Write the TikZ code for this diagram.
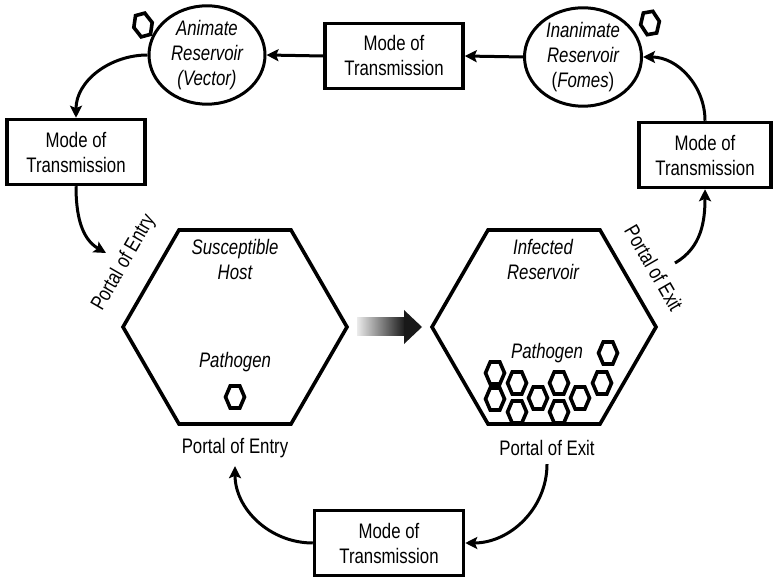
\documentclass[tikz,border=0pt]{standalone}
\usepackage{fontspec}
\setmainfont{Liberation Sans}[FakeStretch=0.8]
\usepackage{tikz}
\usetikzlibrary{arrows.meta,shapes.geometric}
\newcommand{\labelfont}{\fontsize{10.5}{12.5}\selectfont}
% one pathogen cell: [rotation]{x,y}
\newcommand{\pathogenhex}[2][0]{%
  \draw[hexcell, rotate around={#1:(#2)}] (#2) ++(-9.5,0) -- ++(4.7,11)
    -- ++(9.6,0) -- ++(4.7,-11) -- ++(-4.7,-11) -- ++(-9.6,0) -- cycle;}

\begin{document}
\begin{tikzpicture}[
  x=0.5pt, y=0.5pt,
  modebox/.style={rectangle, draw, line width=1.75pt, minimum width=69pt,
    minimum height=32.5pt, inner sep=0pt, align=center, font=\labelfont},
  reservoir/.style={ellipse, draw, line width=1.5pt, minimum width=58pt,
    minimum height=46pt, inner sep=0pt, align=center, font=\labelfont\itshape},
  hostcell/.style={regular polygon, regular polygon sides=6, draw,
    line width=1.8pt, minimum size=112pt, inner sep=0pt},
  portal/.style={inner sep=4pt, font=\labelfont},
  inlabel/.style={align=center, inner sep=1pt, font=\labelfont\itshape},
  flow/.style={-{Stealth[length=6pt, width=6pt, inset=1.2pt]}, line width=1.5pt},
  hexcell/.style={line width=1.8pt, line join=miter}
]
  \useasboundingbox (0,0) rectangle (774,578);

  % reservoirs and modes of transmission along the top
  \node[reservoir] (animate) at (207,523) {Animate\\Reservoir\\(Vector)};
  \node[reservoir, minimum width=58.5pt, minimum height=48.5pt] (inanimate)
    at (583,521) {Inanimate\\Reservoir\\{\upshape(}Fomes{\upshape)}};
  \node[modebox] (topmode) at (394,522) {Mode of\\Transmission};
  \node[modebox] (leftmode) at (76,426) {Mode of\\Transmission};
  \node[modebox, minimum width=66pt] (rightmode) at (705,423) {Mode of\\Transmission};
  \node[modebox, minimum width=74.5pt] (bottommode) at (389,35) {Mode of\\Transmission};

  % host and infected reservoir
  \node[hostcell] (host) at (235,251) {};
  \node[hostcell] (infected) at (544,251) {};
  \node[inlabel] (hostname) at (235,319) {Susceptible\\Host};
  \node[inlabel] (hostpath) at (235,216) {Pathogen};
  \node[inlabel] (infname) at (543,319) {Infected\\Reservoir};
  \node[inlabel] (infpath) at (547,225) {Pathogen};

  % portals
  \node[portal] (entrylabel) at (235,130) {Portal of Entry};
  \node[portal] (exitlabel) at (547,130) {Portal of Exit};
  \node[portal, rotate=60] (entryside) at (124,315) {Portal of Entry};
  \node[portal, rotate=-60] (exitside) at (654,310) {Portal of Exit};
  \coordinate (entrytip) at (106,325);
  \coordinate (exitstart) at (675,315);

  % pathogen cells
  \pathogenhex[15]{143,553}
  \pathogenhex[10]{650,555}
  \pathogenhex{235,181}
  \pathogenhex{608,225}
  \foreach \hx/\hy in {495/205, 517/195, 495/179, 517/166, 538/180,
                       559/195, 559/166, 580/180, 602/195}
    {\pathogenhex{\hx,\hy}}

  % shaded arrow from host to infected reservoir
  \shade[left color=black!8, right color=black!90] (357,242) rectangle (405,260);
  \fill[black!90] (404,268) -- (422,251) -- (404,234) -- cycle;

  % chain of infection
  \draw[flow] (inanimate.west) -- (topmode.east);
  \draw[flow] (topmode.west) -- (animate.east);
  \draw[flow] (animate.west) to[out=180, in=90] (leftmode.north);
  \draw[flow] (leftmode.south) to[out=-90, in=150] (entrytip);
  \draw[flow] (exitstart) to[out=30, in=-90] (rightmode.south);
  \draw[flow] (rightmode.north) to[out=90, in=0] (inanimate.east);
  \draw[flow] (exitlabel.south) to[out=-90, in=0] (bottommode.east);
  \draw[flow] (bottommode.west) to[out=180, in=-90] (entrylabel.south);
\end{tikzpicture}
\end{document}
